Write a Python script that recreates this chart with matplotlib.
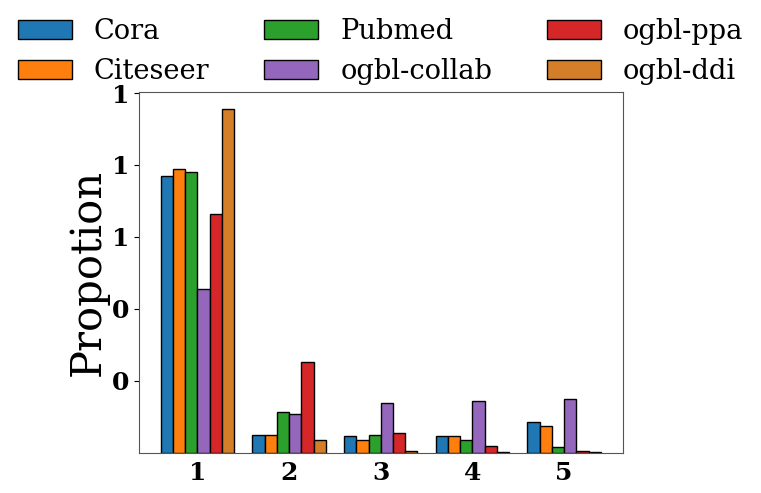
import numpy as np
import matplotlib
matplotlib.use("Agg")
import matplotlib.pyplot as plt

# proportion of links per hop bucket
hops = [1, 2, 3, 4, 5]
cora = [0.769, 0.048, 0.046, 0.046, 0.085]
citeseer = [0.789, 0.050, 0.035, 0.047, 0.073]
pubmed = [0.781, 0.112, 0.048, 0.035, 0.016]
collab = [0.455, 0.107, 0.137, 0.145, 0.149]
ppa = [0.663, 0.252, 0.056, 0.018, 0.005]
ddi = [0.956, 0.034, 0.004, 0.001, 0.001]

names = ["Cora", "Citeseer", "Pubmed", "ogbl-collab", "ogbl-ppa", "ogbl-ddi"]
series = [cora, citeseer, pubmed, collab, ppa, ddi]
colors = ["#1f77b4", "#ff7f0e", "#2ca02c", "#9467bd", "#d62728", "#d57e29"]
yticks = [0.2, 0.4, 0.6, 0.8, 1.0]

plt.rcParams["font.family"] = "DejaVu Serif"

fig = plt.figure(figsize=(7.61, 4.93), dpi=100)
ax = fig.add_axes([0.1823, 0.0817, 0.636, 0.7323])

x = np.arange(len(hops)) + 1
w = 0.8/len(series)
for k, (name, vals, c) in enumerate(zip(names, series, colors)):
    ax.bar(x - 0.4 + w*(k + 0.5), vals, w, color=c, edgecolor="black",
           linewidth=1.0, label=name)

ax.set_yticks(yticks)
ax.set_yticklabels([f"{v:.0f}" for v in yticks], fontsize=18, fontweight="bold")
ax.set_xticks(x)
ax.set_xticklabels([str(h) for h in hops], fontsize=18, fontweight="bold")
ax.tick_params(axis="x", length=0, pad=6)
ax.set_ylabel("Propotion", fontsize=30, labelpad=2)
for s in ax.spines.values():
    s.set_color("#555555")

fig.legend(loc="upper center", bbox_to_anchor=(0.5, 1.014), ncol=3,
           fontsize=19.6, frameon=False)

fig.savefig("out.png")
